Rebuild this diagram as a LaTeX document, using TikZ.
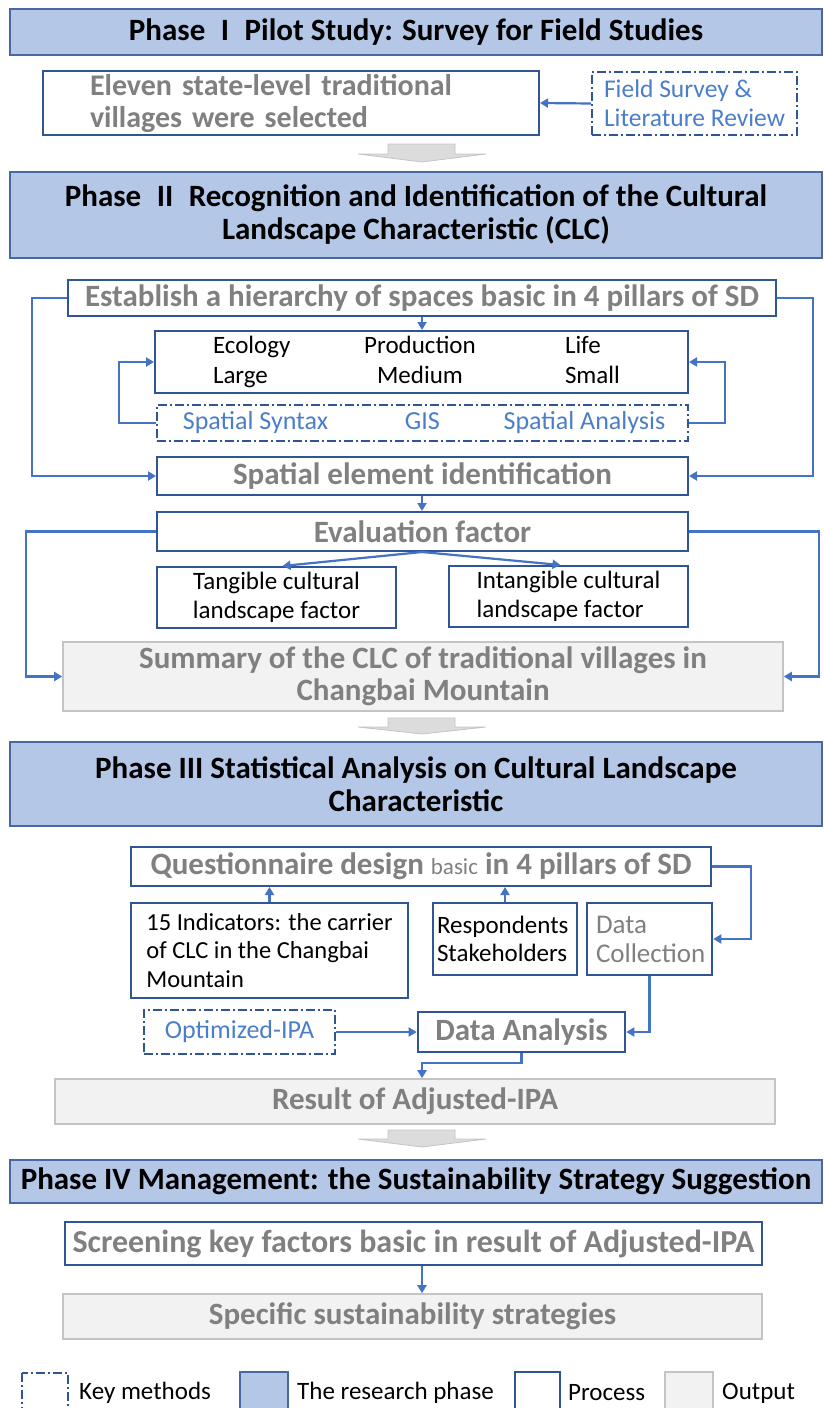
\documentclass[tikz,border=0pt]{standalone}
\usepackage{fontspec}
\setmainfont{Carlito}
\usetikzlibrary{arrows.meta,positioning,calc}
\definecolor{phasefill}{RGB}{180,199,231}
\definecolor{phaseline}{RGB}{72,104,160}
\definecolor{procline}{RGB}{47,85,151}
\definecolor{arrowblue}{RGB}{68,114,196}
\definecolor{keyblue}{RGB}{74,126,200}
\definecolor{greytext}{RGB}{128,128,128}
\definecolor{outfill}{RGB}{242,242,242}
\definecolor{outline}{RGB}{196,196,196}
\definecolor{bigfill}{RGB}{220,220,220}

\begin{document}
\begin{tikzpicture}
    [x=1pt,y=-1pt,
      phase/.style={draw=phaseline,fill=phasefill,line width=2pt,inner sep=0pt,
        minimum width=812,align=center,font=\bfseries\fontsize{31}{33}\selectfont},
      proc/.style={draw=procline,fill=white,line width=2pt,inner sep=0pt},
      dashdot/.style={dash pattern=on 9pt off 3pt on 2pt off 3pt},
      keym/.style={draw=procline,dashdot,line width=1.6pt,inner sep=0pt,text=keyblue,
        font=\fontsize{26}{29}\selectfont},
      outp/.style={draw=outline,fill=outfill,line width=1.6pt,inner sep=0pt},
      greyt/.style={text=greytext,font=\bfseries\fontsize{31}{32}\selectfont},
      blackt/.style={font=\fontsize{25}{29}\selectfont},
      flow/.style={draw=arrowblue,line width=2.2pt,-{Triangle[length=8pt,width=9pt]}},
      big/.style={draw=outline,fill=bigfill,line width=0.8pt}]

  \clip (0,0) rectangle (823,1408);
  \coordinate (mid) at (422,0);

  % Phase I
  \node [phase,minimum height=46] (ph1) at (416,32) {Phase\enspace I\enspace Pilot Study: Survey for Field Studies};
  \node [proc,greyt,font=\bfseries\fontsize{30}{32}\selectfont,minimum width=496,minimum height=64,
    text width=402,align=left] (vill) at (291,103)
    {Eleven state-level traditional\\villages were selected};
  \node [keym,font=\fontsize{25.5}{29}\selectfont,minimum width=205,minimum height=63,align=left] (field) at (694.5,103.5)
    {Field Survey \&\\Literature Review};
  \draw [flow] (field.west) -- (vill.east);

  \draw [big] (388,144) -- (455,144) -- (455,154) -- (486,154) -- (422,162) -- (358,154) -- (388,154) -- cycle;

  % Phase II
  \node [phase,minimum height=86] (ph2) at (416,215)
    {Phase\enspace II\enspace Recognition and Identification of the Cultural\\Landscape Characteristic (CLC)};
  \node [proc,greyt,minimum width=708,minimum height=36] (hier) at (422,298)
    {Establish a hierarchy of spaces basic in 4 pillars of SD};
  \node [proc,blackt,font=\fontsize{25}{30}\selectfont,minimum width=533,minimum height=62,align=left] (pill) at (421.5,362)
    {\makebox[150pt][l]{Ecology}\makebox[114pt][c]{Production}\hspace{88pt}\makebox[60pt][l]{Life}\hspace*{5pt}\\
     \makebox[150pt][l]{Large}\makebox[114pt][c]{Medium}\hspace{88pt}\makebox[60pt][l]{Small}\hspace*{5pt}};
  \node [keym,minimum width=531,minimum height=36] (tools) at (422.5,423)
    {\makebox[160pt][c]{Spatial Syntax}\makebox[174pt][c]{GIS}\makebox[150pt][c]{Spatial Analysis}\hspace*{10pt}};
  \node [proc,greyt,minimum width=531,minimum height=38] (elem) at (422.5,476) {Spatial element identification};
  \node [proc,greyt,minimum width=531,minimum height=39] (eval) at (422.5,531.5) {Evaluation factor};
  \node [proc,blackt,minimum width=239,minimum height=61,align=center] (tang) at (276.5,597.5)
    {Tangible cultural\\landscape factor};
  \node [proc,blackt,minimum width=239,minimum height=61,align=left] (intang) at (568.5,596.5)
    {Intangible cultural\\landscape factor};
  \node [outp,greyt,minimum width=720,minimum height=69,align=center] (summ) at (423,676.5)
    {Summary of the CLC of traditional villages in\\Changbai Mountain};

  \draw [flow] (hier.south -| mid) -- (pill.north -| mid);
  \draw [flow] (tools.west) -- ++(-37,0) |- (pill.west);
  \draw [flow] (tools.east) -- ++(36,0) |- (pill.east);
  \draw [flow] (hier.west) -- ++(-35,0) |- (elem.west);
  \draw [flow] (hier.east) -- ++(36,0) |- (elem.east);
  \draw [flow] (elem.south -| mid) -- (eval.north -| mid);
  \draw [flow] (eval.south -| mid) -- ($(tang.north)+(6,0)$);
  \draw [flow] (eval.south -| mid) -- ($(intang.north)+(-8,0)$);
  \draw [flow] (eval.west) -- ++(-130,0) |- (summ.west);
  \draw [flow] (eval.east) -- ++(130,0) |- (summ.east);

  \draw [big] (388,718) -- (455,718) -- (455,727) -- (486,727) -- (422,734) -- (358,727) -- (388,727) -- cycle;

  % Phase III
  \node [phase,minimum height=84] (ph3) at (416,784)
    {Phase III Statistical Analysis on Cultural Landscape\\Characteristic};
  \node [proc,greyt,minimum width=580,minimum height=39] (quest) at (421,866.5)
    {Questionnaire design {\mdseries\fontsize{23}{24}\selectfont basic} in 4 pillars of SD};
  \node [proc,blackt,font=\fontsize{24.5}{28.5}\selectfont,minimum width=277,minimum height=95,
    align=left] (ind) at (269.5,950.5)
    {15 Indicators: the carrier\\of CLC in the Changbai\\Mountain};
  \node [proc,blackt,font=\fontsize{25}{28}\selectfont,minimum width=144,minimum height=72,
    text width=136,align=left] (resp) at (505,939)
    {Respondents\\Stakeholders};
  \node [proc,greyt,line width=2.6pt,font=\fontsize{27}{29}\selectfont,minimum width=125,minimum height=72,
    text width=107,align=left] (coll) at (649.5,939) {Data\\Collection};
  \node [keym,minimum width=191,minimum height=44] (opt) at (239.5,1032) {Optimized-IPA};
  \node [proc,greyt,line width=2.6pt,minimum width=207,minimum height=40] (anal) at (521.5,1032) {Data Analysis};
  \node [outp,greyt,minimum width=720,minimum height=45] (res) at (415,1101.5) {Result of Adjusted-IPA};

  \draw [flow] (ind.north) -- (ind.north |- quest.south);
  \draw [flow] (resp.north) -- (resp.north |- quest.south);
  \draw [flow] (quest.east) -- ++(39,0) |- (coll.east);
  \draw [flow] (opt.east) -- (anal.west);
  \draw [flow] (coll.south) |- (anal.east);
  \draw [flow] (anal.south) -- ++(0,10) -| (res.north -| mid);

  \draw [big] (388,1130) -- (455,1130) -- (455,1139) -- (486,1139) -- (422,1147) -- (358,1139) -- (388,1139) -- cycle;

  % Phase IV
  \node [phase,minimum height=43] (ph4) at (416,1181.5)
    {Phase IV Management: the Sustainability Strategy Suggestion};
  \node [proc,greyt,font=\bfseries\fontsize{32}{32}\selectfont,minimum width=697,minimum height=43] (screen) at (413.5,1243.5)
    {Screening key factors basic in result of Adjusted-IPA};
  \node [outp,greyt,minimum width=699,minimum height=45] (strat) at (412.5,1316.5)
    {Specific sustainability strategies};
  \draw [flow] (screen.south -| mid) -- (strat.north -| mid);

  % legend
  \draw [procline,dashdot,line width=1.6pt] (22,1373) rectangle (68,1415);
  \node [blackt,anchor=west,inner sep=0pt] (lkey) at (79,1393) {Key methods};
  \draw [phaseline,fill=phasefill,line width=2pt] (240,1372) rectangle (288,1415);
  \node [blackt,anchor=west,inner sep=0pt] (lphase) at (297,1393) {The research phase};
  \draw [procline,line width=2pt] (515,1372) rectangle (560,1415);
  \node [blackt,anchor=west,inner sep=0pt] (lproc) at (568,1393) {Process};
  \draw [outline,fill=outfill,line width=1.6pt] (665,1372) rectangle (713,1415);
  \node [blackt,anchor=west,inner sep=0pt] (lout) at (722,1393) {Output};
\end{tikzpicture}
\end{document}
